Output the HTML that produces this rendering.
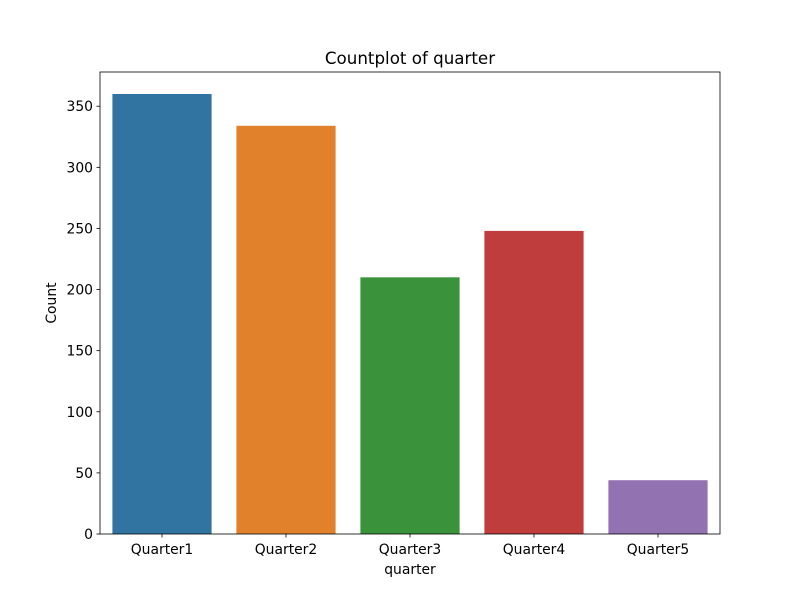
<!DOCTYPE html>
<html><head><meta charset="utf-8"><style>
body{margin:0;background:#fff;font-family:"Liberation Sans","DejaVu Sans",sans-serif;}
svg text{font-family:"DejaVu Sans","Liberation Sans",sans-serif;}
</style></head><body>
<svg id="chart" width="800" height="600" xmlns="http://www.w3.org/2000/svg">
<rect width="800" height="600" fill="#fff"/>
<text x="410" y="64" text-anchor="middle" font-size="16.7">Countplot of quarter</text>
<text x="410" y="574" text-anchor="middle" font-size="13.9">quarter</text>
<text x="56" y="303" text-anchor="middle" font-size="13.9" transform="rotate(-90 56 303)">Count</text>
<g id="bars"></g><g id="ticks"></g>
<rect x="100" y="72" width="620" height="462" fill="none" stroke="#000" stroke-width="0.8"/>
</svg>
<script>
const categories=["Quarter1","Quarter2","Quarter3","Quarter4","Quarter5"];
const counts=[360,334,210,248,44];
const colors=["#3274a1","#e1812c","#3a923a","#c03d3e","#9372b2"];
const yTicks=[0,50,100,150,200,250,300,350];
const L=100,R=720,T=72,B=534,yMax=378;
const ns="http://www.w3.org/2000/svg";
const y=v=>B-(v/yMax)*(B-T);
const band=(R-L)/categories.length;
const x=i=>L+band*i+band/2;
const bars=document.getElementById('bars'),ticks=document.getElementById('ticks');
function mk(t,a,p){const e=document.createElementNS(ns,t);for(const k in a)e.setAttribute(k,a[k]);p.appendChild(e);return e;}
categories.forEach((c,i)=>{
 const r=mk('rect',{x:x(i)-band*0.4,y:y(counts[i]),width:band*0.8,height:B-y(counts[i]),fill:colors[i]},bars);
 
 
 mk('line',{x1:x(i),x2:x(i),y1:B,y2:B+3.5,stroke:'#000','stroke-width':0.8},ticks);
 const t=mk('text',{x:x(i),y:B+20,'text-anchor':'middle','font-size':13.9},ticks);
 t.textContent=c;
 
 
});
yTicks.forEach(v=>{
 mk('line',{x1:L-3.5,x2:L,y1:y(v),y2:y(v),stroke:'#000','stroke-width':0.8},ticks);
 const t=mk('text',{x:L-7,y:y(v)+5,'text-anchor':'end','font-size':13.9},ticks);
 t.textContent=v;
 
 
});
</script>
</body></html>
